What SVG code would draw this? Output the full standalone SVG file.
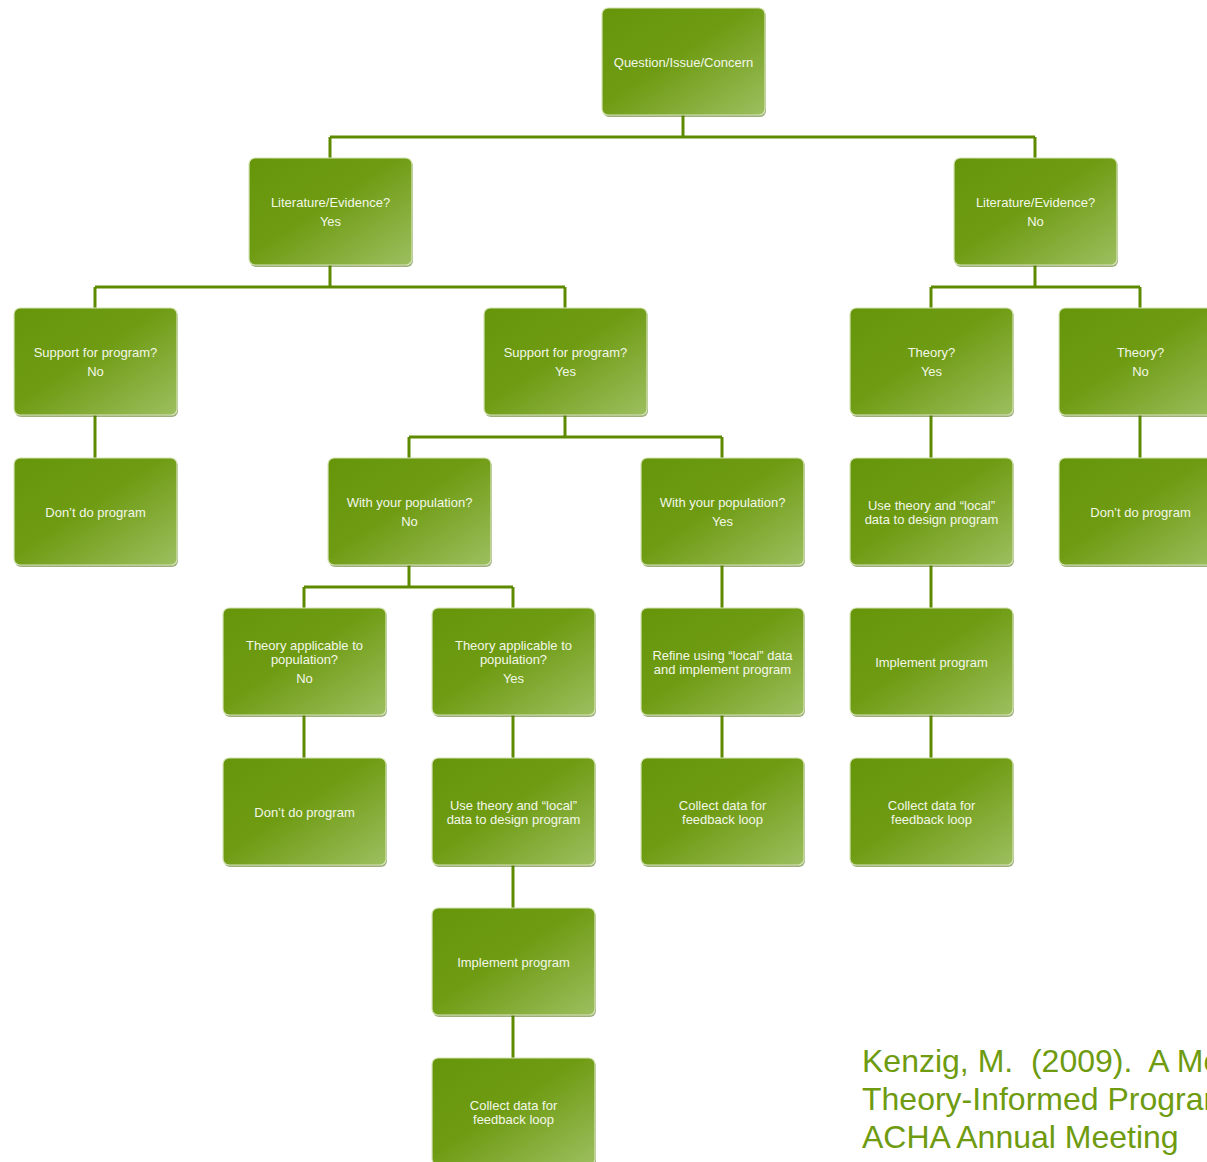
<svg xmlns="http://www.w3.org/2000/svg" width="1207" height="1162" viewBox="0 0 1207 1162">
<defs>
<linearGradient id="g" x1="0" y1="0" x2="1" y2="1">
<stop offset="0" stop-color="#66950a"/>
<stop offset="0.45" stop-color="#6e9b12"/>
<stop offset="1" stop-color="#9dbf60"/>
</linearGradient>
<style>
.sh{fill:#4f6e10;opacity:0.55}
.bx{fill:url(#g);stroke:#d6e4b8;stroke-width:1.2}
.t{font-family:"Liberation Sans",Arial,sans-serif;font-size:13px;fill:#f3f7e8;text-anchor:middle}
.c{fill:none;stroke:#5e8a00;stroke-width:3}
.cit{font-family:"Liberation Sans",Arial,sans-serif;font-size:32px;fill:#6e9b10}
</style>
</defs>
<rect width="1207" height="1162" fill="#ffffff"/>
<g id="connectors">
<path class="c" d="M683,115V137M330,137H1035M330,137V158M1035,137V158"/>
<path class="c" d="M330,265V287M95,287H565M95,287V308M565,287V308"/>
<path class="c" d="M1035,265V287M931,287H1140M931,287V308M1140,287V308"/>
<path class="c" d="M95,415V458M931,415V458M1140,415V458"/>
<path class="c" d="M565,415V437M409,437H722M409,437V458M722,437V458"/>
<path class="c" d="M409,565V587M304,587H513M304,587V608M513,587V608"/>
<path class="c" d="M722,565V608M931,565V608"/>
<path class="c" d="M304,715V758M513,715V758M722,715V758M931,715V758"/>
<path class="c" d="M513,865V908M513,1015V1058"/>
</g>
<g id="n1"><rect class="sh" x="603" y="10" width="163" height="107" rx="6"/><rect class="bx" x="602" y="8" width="163" height="107" rx="6"/><text class="t" x="683.5" y="66.5">Question/Issue/Concern</text></g>
<g id="n2"><rect class="sh" x="250" y="160" width="163" height="107" rx="6"/><rect class="bx" x="249" y="158" width="163" height="107" rx="6"/><text class="t" x="330.5" y="206.5">Literature/Evidence?</text><text class="t" x="330.5" y="225.5">Yes</text></g>
<g id="n3"><rect class="sh" x="955" y="160" width="163" height="107" rx="6"/><rect class="bx" x="954" y="158" width="163" height="107" rx="6"/><text class="t" x="1035.5" y="206.5">Literature/Evidence?</text><text class="t" x="1035.5" y="225.5">No</text></g>
<g id="n4"><rect class="sh" x="15" y="310" width="163" height="107" rx="6"/><rect class="bx" x="14" y="308" width="163" height="107" rx="6"/><text class="t" x="95.5" y="356.5">Support for program?</text><text class="t" x="95.5" y="375.5">No</text></g>
<g id="n5"><rect class="sh" x="485" y="310" width="163" height="107" rx="6"/><rect class="bx" x="484" y="308" width="163" height="107" rx="6"/><text class="t" x="565.5" y="356.5">Support for program?</text><text class="t" x="565.5" y="375.5">Yes</text></g>
<g id="n6"><rect class="sh" x="851" y="310" width="163" height="107" rx="6"/><rect class="bx" x="850" y="308" width="163" height="107" rx="6"/><text class="t" x="931.5" y="356.5">Theory?</text><text class="t" x="931.5" y="375.5">Yes</text></g>
<g id="n7"><rect class="sh" x="1060" y="310" width="163" height="107" rx="6"/><rect class="bx" x="1059" y="308" width="163" height="107" rx="6"/><text class="t" x="1140.5" y="356.5">Theory?</text><text class="t" x="1140.5" y="375.5">No</text></g>
<g id="n8"><rect class="sh" x="15" y="460" width="163" height="107" rx="6"/><rect class="bx" x="14" y="458" width="163" height="107" rx="6"/><text class="t" x="95.5" y="516.5">Don’t do program</text></g>
<g id="n9"><rect class="sh" x="329" y="460" width="163" height="107" rx="6"/><rect class="bx" x="328" y="458" width="163" height="107" rx="6"/><text class="t" x="409.5" y="506.5">With your population?</text><text class="t" x="409.5" y="525.5">No</text></g>
<g id="n10"><rect class="sh" x="642" y="460" width="163" height="107" rx="6"/><rect class="bx" x="641" y="458" width="163" height="107" rx="6"/><text class="t" x="722.5" y="506.5">With your population?</text><text class="t" x="722.5" y="525.5">Yes</text></g>
<g id="n11"><rect class="sh" x="851" y="460" width="163" height="107" rx="6"/><rect class="bx" x="850" y="458" width="163" height="107" rx="6"/><text class="t" x="931.5" y="509.5">Use theory and “local”</text><text class="t" x="931.5" y="523.5">data to design program</text></g>
<g id="n12"><rect class="sh" x="1060" y="460" width="163" height="107" rx="6"/><rect class="bx" x="1059" y="458" width="163" height="107" rx="6"/><text class="t" x="1140.5" y="516.5">Don’t do program</text></g>
<g id="n13"><rect class="sh" x="224" y="610" width="163" height="107" rx="6"/><rect class="bx" x="223" y="608" width="163" height="107" rx="6"/><text class="t" x="304.5" y="649.5">Theory applicable to</text><text class="t" x="304.5" y="663.5">population?</text><text class="t" x="304.5" y="682.5">No</text></g>
<g id="n14"><rect class="sh" x="433" y="610" width="163" height="107" rx="6"/><rect class="bx" x="432" y="608" width="163" height="107" rx="6"/><text class="t" x="513.5" y="649.5">Theory applicable to</text><text class="t" x="513.5" y="663.5">population?</text><text class="t" x="513.5" y="682.5">Yes</text></g>
<g id="n15"><rect class="sh" x="642" y="610" width="163" height="107" rx="6"/><rect class="bx" x="641" y="608" width="163" height="107" rx="6"/><text class="t" x="722.5" y="659.5">Refine using “local” data</text><text class="t" x="722.5" y="673.5">and implement program</text></g>
<g id="n16"><rect class="sh" x="851" y="610" width="163" height="107" rx="6"/><rect class="bx" x="850" y="608" width="163" height="107" rx="6"/><text class="t" x="931.5" y="666.5">Implement program</text></g>
<g id="n17"><rect class="sh" x="224" y="760" width="163" height="107" rx="6"/><rect class="bx" x="223" y="758" width="163" height="107" rx="6"/><text class="t" x="304.5" y="816.5">Don’t do program</text></g>
<g id="n18"><rect class="sh" x="433" y="760" width="163" height="107" rx="6"/><rect class="bx" x="432" y="758" width="163" height="107" rx="6"/><text class="t" x="513.5" y="809.5">Use theory and “local”</text><text class="t" x="513.5" y="823.5">data to design program</text></g>
<g id="n19"><rect class="sh" x="642" y="760" width="163" height="107" rx="6"/><rect class="bx" x="641" y="758" width="163" height="107" rx="6"/><text class="t" x="722.5" y="809.5">Collect data for</text><text class="t" x="722.5" y="823.5">feedback loop</text></g>
<g id="n20"><rect class="sh" x="851" y="760" width="163" height="107" rx="6"/><rect class="bx" x="850" y="758" width="163" height="107" rx="6"/><text class="t" x="931.5" y="809.5">Collect data for</text><text class="t" x="931.5" y="823.5">feedback loop</text></g>
<g id="n21"><rect class="sh" x="433" y="910" width="163" height="107" rx="6"/><rect class="bx" x="432" y="908" width="163" height="107" rx="6"/><text class="t" x="513.5" y="966.5">Implement program</text></g>
<g id="n22"><rect class="sh" x="433" y="1060" width="163" height="107" rx="6"/><rect class="bx" x="432" y="1058" width="163" height="107" rx="6"/><text class="t" x="513.5" y="1109.5">Collect data for</text><text class="t" x="513.5" y="1123.5">feedback loop</text></g>
<g id="citation"><text class="cit" x="862" y="1072" xml:space="preserve">Kenzig, M.  (2009).  A Model</text><text class="cit" x="862" y="1110">Theory-Informed Program</text><text class="cit" x="862" y="1148">ACHA Annual Meeting</text></g>
</svg>
